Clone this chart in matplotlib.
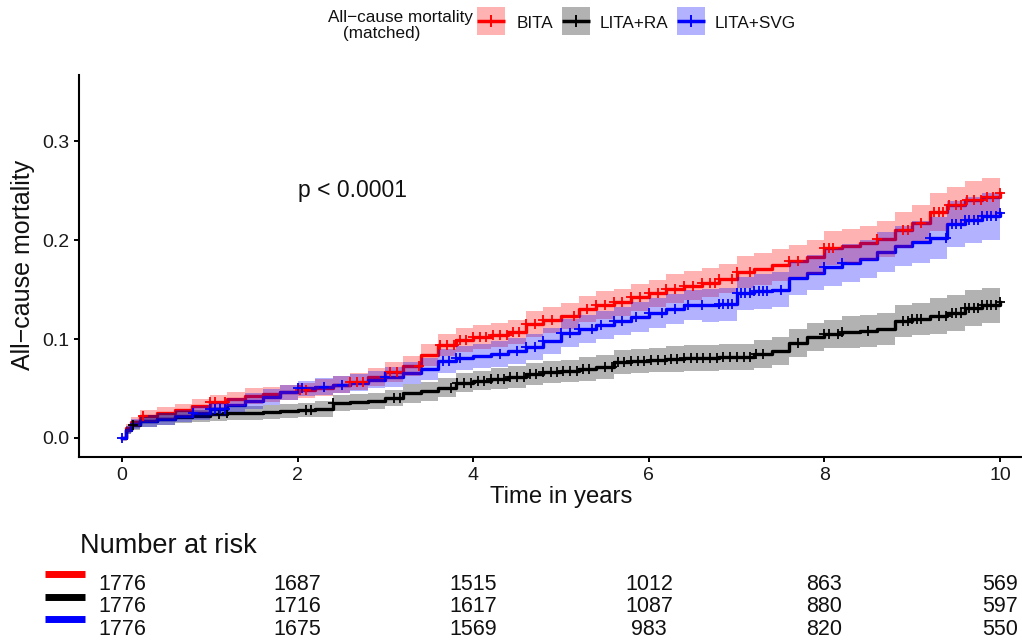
import numpy as np
import matplotlib
matplotlib.use("Agg")
import matplotlib.pyplot as plt
from matplotlib.patches import Rectangle
from matplotlib.lines import Line2D
import matplotlib.transforms as mtransforms

plt.rcParams['font.family'] = ['Liberation Sans', 'DejaVu Sans']

# ---------------- data ----------------
times = [0.0, 0.05, 0.1, 0.2, 0.4, 0.6, 0.8, 1.0, 1.2, 1.4, 1.6, 1.8, 2.0, 2.2, 2.4, 2.6,
         2.8, 3.0, 3.2, 3.4, 3.6, 3.8, 4.0, 4.2, 4.4, 4.6, 4.8, 5.0, 5.2, 5.4, 5.6, 5.8,
         6.0, 6.2, 6.4, 6.6, 6.8, 7.0, 7.2, 7.4, 7.6, 7.8, 8.0, 8.2, 8.4, 8.6, 8.8, 9.0,
         9.2, 9.4, 9.6, 9.8, 10.0]

groups = ["BITA", "LITA+RA", "LITA+SVG"]
colors = ["#FF0000", "#000000", "#0000FF"]

bita_est = [0.000, 0.010, 0.016, 0.022, 0.025, 0.028, 0.032, 0.036, 0.039, 0.042, 0.044, 0.046,
            0.048, 0.051, 0.054, 0.057, 0.062, 0.067, 0.073, 0.084, 0.094, 0.099, 0.102, 0.104,
            0.107, 0.115, 0.119, 0.123, 0.130, 0.134, 0.137, 0.142, 0.146, 0.151, 0.154, 0.157,
            0.161, 0.168, 0.171, 0.175, 0.179, 0.183, 0.192, 0.194, 0.197, 0.201, 0.210, 0.217,
            0.228, 0.235, 0.240, 0.243, 0.247]
bita_lo = [0.000, 0.006, 0.011, 0.016, 0.019, 0.022, 0.025, 0.029, 0.032, 0.034, 0.036, 0.038,
           0.040, 0.042, 0.045, 0.048, 0.053, 0.057, 0.063, 0.073, 0.083, 0.087, 0.090, 0.092,
           0.095, 0.102, 0.106, 0.110, 0.117, 0.120, 0.123, 0.128, 0.132, 0.136, 0.139, 0.142,
           0.146, 0.152, 0.155, 0.159, 0.163, 0.166, 0.175, 0.177, 0.180, 0.183, 0.192, 0.199,
           0.209, 0.216, 0.220, 0.223, 0.227]
bita_hi = [0.000, 0.014, 0.021, 0.028, 0.031, 0.034, 0.039, 0.043, 0.046, 0.050, 0.052, 0.054,
           0.056, 0.060, 0.063, 0.066, 0.071, 0.077, 0.083, 0.095, 0.105, 0.111, 0.114, 0.116,
           0.119, 0.128, 0.132, 0.136, 0.143, 0.148, 0.151, 0.156, 0.160, 0.166, 0.169, 0.172,
           0.176, 0.184, 0.187, 0.191, 0.195, 0.200, 0.209, 0.211, 0.214, 0.219, 0.228, 0.235,
           0.247, 0.254, 0.260, 0.263, 0.267]

ra_est = [0.000, 0.008, 0.013, 0.017, 0.019, 0.021, 0.022, 0.024, 0.025, 0.025, 0.026, 0.027,
          0.028, 0.029, 0.035, 0.036, 0.037, 0.040, 0.045, 0.047, 0.051, 0.056, 0.058, 0.060,
          0.062, 0.065, 0.067, 0.068, 0.070, 0.072, 0.077, 0.078, 0.079, 0.080, 0.081, 0.081,
          0.082, 0.082, 0.085, 0.088, 0.096, 0.102, 0.105, 0.107, 0.108, 0.110, 0.118, 0.120,
          0.123, 0.126, 0.131, 0.134, 0.137]
ra_lo = [0.000, 0.004, 0.008, 0.011, 0.013, 0.015, 0.016, 0.017, 0.018, 0.018, 0.019, 0.020,
         0.021, 0.021, 0.027, 0.028, 0.029, 0.032, 0.035, 0.037, 0.041, 0.046, 0.048, 0.049,
         0.051, 0.054, 0.056, 0.057, 0.058, 0.060, 0.065, 0.066, 0.067, 0.067, 0.068, 0.068,
         0.069, 0.069, 0.071, 0.074, 0.082, 0.088, 0.091, 0.091, 0.092, 0.094, 0.102, 0.104,
         0.105, 0.108, 0.113, 0.116, 0.119]
ra_hi = [0.000, 0.012, 0.018, 0.023, 0.025, 0.027, 0.028, 0.031, 0.032, 0.032, 0.033, 0.034,
         0.035, 0.037, 0.043, 0.044, 0.045, 0.048, 0.055, 0.057, 0.061, 0.066, 0.068, 0.071,
         0.073, 0.076, 0.078, 0.079, 0.082, 0.084, 0.089, 0.090, 0.091, 0.093, 0.094, 0.094,
         0.095, 0.095, 0.099, 0.102, 0.110, 0.116, 0.119, 0.123, 0.124, 0.126, 0.134, 0.136,
         0.141, 0.144, 0.149, 0.152, 0.155]

svg_est = [0.000, 0.008, 0.014, 0.017, 0.019, 0.022, 0.025, 0.029, 0.033, 0.037, 0.041, 0.046,
           0.050, 0.052, 0.054, 0.056, 0.059, 0.062, 0.066, 0.070, 0.078, 0.081, 0.083, 0.085,
           0.088, 0.092, 0.098, 0.106, 0.110, 0.114, 0.118, 0.122, 0.126, 0.130, 0.134, 0.134,
           0.135, 0.146, 0.148, 0.150, 0.162, 0.167, 0.173, 0.177, 0.181, 0.188, 0.194, 0.198,
           0.202, 0.216, 0.220, 0.224, 0.227]
svg_lo = [0.000, 0.004, 0.009, 0.011, 0.013, 0.016, 0.018, 0.022, 0.026, 0.029, 0.033, 0.038,
          0.042, 0.043, 0.045, 0.047, 0.050, 0.052, 0.055, 0.059, 0.066, 0.069, 0.071, 0.072,
          0.075, 0.079, 0.085, 0.092, 0.096, 0.100, 0.104, 0.107, 0.111, 0.115, 0.119, 0.117,
          0.118, 0.129, 0.130, 0.132, 0.144, 0.149, 0.154, 0.158, 0.162, 0.168, 0.174, 0.177,
          0.181, 0.193, 0.197, 0.200, 0.202]
svg_hi = [0.000, 0.012, 0.019, 0.023, 0.025, 0.028, 0.032, 0.036, 0.040, 0.045, 0.049, 0.054,
          0.058, 0.061, 0.063, 0.065, 0.068, 0.072, 0.077, 0.081, 0.090, 0.093, 0.095, 0.098,
          0.101, 0.105, 0.111, 0.120, 0.124, 0.128, 0.132, 0.137, 0.141, 0.145, 0.149, 0.151,
          0.152, 0.163, 0.166, 0.168, 0.180, 0.185, 0.192, 0.196, 0.200, 0.208, 0.214, 0.219,
          0.223, 0.239, 0.243, 0.248, 0.252]

bita_censor = [0.24, 1.0, 1.06, 1.17, 2.03, 2.1, 2.6, 2.68, 2.75, 3.05, 3.13, 3.38, 3.62, 3.7,
               3.78, 3.85, 3.92, 4.0, 4.08, 4.15, 4.22, 4.3, 4.38, 4.45, 4.52, 4.6, 4.7, 4.8,
               4.9, 5.15, 5.3, 5.4, 5.5, 5.6, 5.7, 5.8, 5.9, 6.0, 6.1, 6.2, 6.3, 6.4, 6.5, 6.6,
               6.7, 6.75, 6.8, 6.95, 7.0, 7.15, 7.6, 7.7, 8.0, 8.05, 8.1, 8.6, 8.9, 8.95, 9.1,
               9.25, 9.3, 9.35, 9.42, 9.5, 9.55, 9.62, 9.7, 9.78, 9.85, 9.92, 10.0]
ra_censor = [0.13, 1.1, 1.2, 2.1, 2.15, 2.4, 3.1, 3.17, 3.75, 3.82, 3.9, 3.98, 4.05, 4.12, 4.2,
             4.28, 4.35, 4.42, 4.5, 4.58, 4.65, 4.72, 4.8, 4.88, 4.95, 5.02, 5.1, 5.18, 5.25,
             5.32, 5.5, 5.58, 5.65, 5.72, 5.8, 5.88, 5.95, 6.02, 6.1, 6.18, 6.25, 6.32, 6.4,
             6.48, 6.55, 6.62, 6.7, 6.78, 6.85, 6.92, 7.0, 7.08, 7.15, 7.22, 7.3, 7.7, 8.0,
             8.05, 8.15, 8.2, 8.5, 8.9, 8.95, 9.0, 9.05, 9.1, 9.3, 9.38, 9.45, 9.5, 9.55, 9.6,
             9.65, 9.7, 9.75, 9.8, 9.85, 9.9, 9.95, 10.0]
svg_censor = [0.0, 0.81, 1.0, 1.06, 1.12, 1.17, 2.0, 2.05, 2.3, 2.5, 3.0, 3.66, 3.72, 3.8, 3.85,
              4.3, 4.5, 4.6, 4.7, 4.8, 5.0, 5.1, 5.2, 5.35, 5.45, 5.6, 5.7, 5.85, 6.0, 6.15,
              6.3, 6.45, 6.6, 6.8, 6.85, 6.9, 6.95, 7.0, 7.05, 7.1, 7.15, 7.2, 7.25, 7.3, 7.35,
              7.5, 8.0, 8.2, 9.2, 9.38, 9.45, 9.5, 9.55, 9.6, 9.65, 9.7, 9.75, 9.8, 9.85, 9.9,
              9.95, 10.0]

risk_times = [0, 2, 4, 6, 8, 10]
bita_risk = [1776, 1687, 1515, 1012, 863, 569]
ra_risk = [1776, 1716, 1617, 1087, 880, 597]
svg_risk = [1776, 1675, 1569, 983, 820, 550]

x_ticks = [0, 2, 4, 6, 8, 10]
y_ticks = [0.0, 0.1, 0.2, 0.3]
y_ticklabels = ["0.0", "0.1", "0.2", "0.3"]

series = [
    (bita_est, bita_lo, bita_hi, bita_censor, bita_risk),
    (ra_est, ra_lo, ra_hi, ra_censor, ra_risk),
    (svg_est, svg_lo, svg_hi, svg_censor, svg_risk),
]

# ---------------- figure ----------------
W, H = 1022, 644
fig = plt.figure(figsize=(W / 100, H / 100), dpi=100)


def fx(px):
    return px / W


def fy(py):
    return 1 - py / H


ax = fig.add_axes([fx(79), fy(457), fx(1022) - fx(79), fy(75) - fy(457)])
ax.set_xlim(-0.49, 10.25)
ax.set_ylim(-0.0192, 0.3667)

t = np.array(times)
# lines
for (est, lo, hi, cens, risk), c in zip(series, colors):
    ax.plot(t, est, drawstyle="steps-post", color=c, lw=2.4, zorder=2)
# confidence bands (drawn over the lines, like survminer)
for (est, lo, hi, cens, risk), c in zip(series, colors):
    ax.fill_between(t, lo, hi, step="post", color=c, alpha=0.3, lw=0, zorder=3)
# censor marks
for (est, lo, hi, cens, risk), c in zip(series, colors):
    ct = np.array(cens)
    idx = np.searchsorted(t, ct, side="right") - 1
    ax.plot(ct, np.array(est)[idx], ls="none", marker="+", ms=7, mew=1.3, color=c, zorder=4)

for s in ["top", "right"]:
    ax.spines[s].set_visible(False)
for s in ["left", "bottom"]:
    ax.spines[s].set_linewidth(1.5)
ax.set_xticks(x_ticks)
ax.set_xticklabels([str(v) for v in x_ticks])
ax.set_yticks(y_ticks)
ax.set_yticklabels(y_ticklabels)
ax.tick_params(axis="both", direction="out", length=3.8, width=1.4, color="black",
               labelsize=14, labelcolor="#1a1a1a")
ax.tick_params(axis="x", pad=3.5)
ax.tick_params(axis="y", pad=3)

fig.text(fx(23), fy(265), "All\u2212cause mortality", rotation=90, ha="center", va="center",
         fontsize=18, color="#111111")
fig.text(fx(561), fy(497), "Time in years", ha="center", va="center", fontsize=17.2, color="#111111")
ax.text(2.0, 0.2434, "p < 0.0001", ha="left", va="baseline", fontsize=16.5, color="#111111")

# ---------------- legend (top) ----------------
fig.text(fx(400), fy(22), "All\u2212cause mortality", ha="center", va="baseline", fontsize=12.3,
         color="#111111")
fig.text(fx(382), fy(38), "(matched)", ha="center", va="baseline", fontsize=12.3, color="#111111")
key_x = [477, 562, 677]
text_x = [517, 600, 715]
for g, c, kx, tx in zip(groups, colors, key_x, text_x):
    fig.add_artist(Rectangle((fx(kx), fy(35)), fx(28), 28 / H, transform=fig.transFigure,
                             facecolor=c, alpha=0.3, lw=0))
    fig.add_artist(Line2D([fx(kx), fx(kx + 28)], [fy(21), fy(21)], transform=fig.transFigure,
                          color=c, lw=2.5, solid_capstyle="butt"))
    fig.add_artist(Line2D([fx(kx + 14)], [fy(21)], transform=fig.transFigure, color=c,
                          marker="+", ms=9, mew=1.4, ls="none"))
    fig.text(fx(tx), fy(28), g, ha="left", va="baseline", fontsize=12.3, color="#111111")

# ---------------- risk table ----------------
fig.text(fx(80), fy(553), "Number at risk", ha="left", va="baseline", fontsize=19.5, color="#111111")
trans = mtransforms.blended_transform_factory(ax.transData, fig.transFigure)
row_base = [590, 612.5, 635]
bar_y = [574, 596.5, 619]
for (est, lo, hi, cens, risk), c, rb, by in zip(series, colors, row_base, bar_y):
    fig.add_artist(Line2D([fx(45), fx(85)], [fy(by), fy(by)], transform=fig.transFigure,
                          color=c, lw=5, solid_capstyle="butt"))
    for rt, n in zip(risk_times, risk):
        ax.text(rt, fy(rb), str(n), transform=trans, ha="center", va="baseline",
                fontsize=15.5, color="#111111", clip_on=False)

fig.savefig("out.png", dpi=100)
